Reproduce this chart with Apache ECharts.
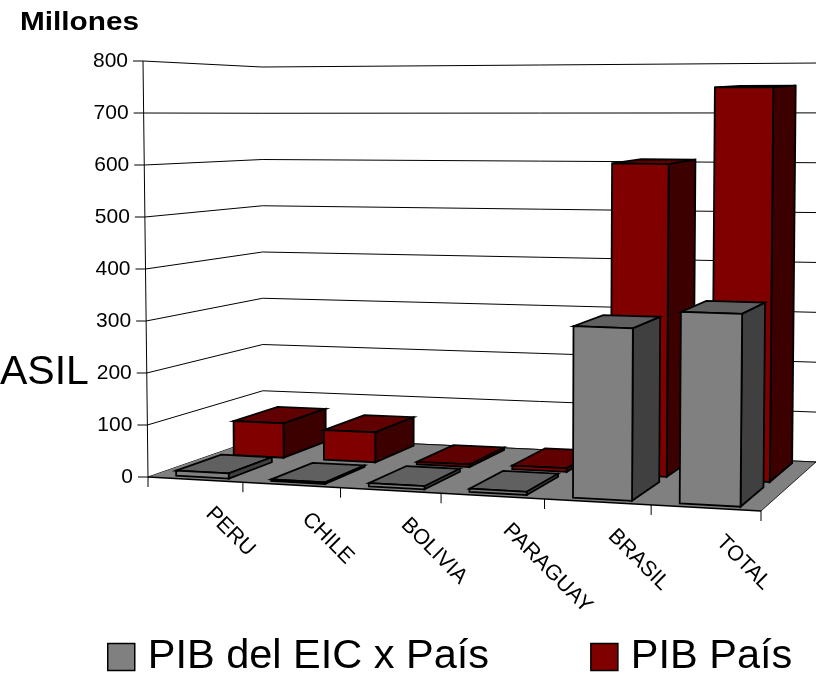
<!DOCTYPE html>
<html><head><meta charset="utf-8">
<style>html,body{margin:0;padding:0;background:#fff}#c{width:816px;height:676px}</style>
<script src="https://cdn.jsdelivr.net/npm/echarts@6/dist/echarts.min.js"></script>
</head><body><div id="c"></div>
<script>
const categories = ['PERU','CHILE','BOLIVIA','PARAGUAY','BRASIL','TOTAL'];
const pibEic = [10, 3, 6, 6, 316, 349];
const pibPais = [70, 60, 5, 7, 606, 755];
const valueTicks = [0,100,200,300,400,500,600,700,800];
const seriesNames = ['PIB del EIC x País','PIB País'];

// 3D box corners of the plot, as seen on screen
const FONT = 'Arial, "Liberation Sans", sans-serif';
const C = {
  fl0:[148,477], fr0:[761,511], bl0:[263,437], br0:[816,462],
  fl1:[143,61],  fr1:[765,65],  bl1:[262,67],  br1:[820,63]
};
const PERSP = -0.084;
const lerp = (a,b,k)=>[a[0]+(b[0]-a[0])*k, a[1]+(b[1]-a[1])*k];
function project(cs, p, t){
  const uN=(p[0]-cs.x)/cs.width, vN=(cs.y+cs.height-p[1])/cs.height;
  const s=uN*(1+PERSP)/(1+PERSP*uN);
  const base=lerp(lerp(C.fl0,C.fr0,s),lerp(C.bl0,C.br0,s),t);
  const top=lerp(lerp(C.fl1,C.fr1,s),lerp(C.bl1,C.br1,s),t);
  return lerp(base,top,vN);
}
const poly=(points,fill,lw)=>({type:'polygon',shape:{points},style:{fill,stroke:'#000',lineWidth:lw==null?1.8:lw,lineJoin:'miter'}});
const line=(a,b,lw)=>({type:'line',shape:{x1:a[0],y1:a[1],x2:b[0],y2:b[1]},style:{stroke:'#000',lineWidth:lw||1,fill:null}});

function barRenderer(t0,t1,front,side,top){
  return function(params,api){
    const cs=params.coordSys;
    const i=api.value(0), v=api.value(1);
    const c0=api.coord([i,0]), c1=api.coord([i,v]);
    const w=api.size([1,0])[0];
    const xa=c0[0]-w*0.272, xb=c0[0]+w*0.285;
    const P=(x,y,t)=>project(cs,[x,y],t);
    const A=P(xa,c1[1],t0),B=P(xb,c1[1],t0),Bb=P(xb,c1[1],t1),Ab=P(xa,c1[1],t1);
    const A0=P(xa,c0[1],t0),B0=P(xb,c0[1],t0),Bb0=P(xb,c0[1],t1);
    return {type:'group',children:[
      poly([A,B,Bb,Ab],top),
      poly([B,Bb,Bb0,B0],side),
      poly([A,B,B0,A0],front)
    ]};
  };
}
function wallRenderer(params,api){
  const cs=params.coordSys;
  const v=api.value(0);
  const x0=cs.x, x1=cs.x+cs.width;
  const y=api.coord([0,v])[1];
  const a=project(cs,[x0,y],0), b=project(cs,[x0,y],1), c=project(cs,[x1,y],1);
  const kids=[line(a,b),line(b,c),line([a[0]-10,a[1]],a)];
  return {type:'group',children:kids};
}
function floorRenderer(params,api){
  const cs=params.coordSys;
  const yb=cs.y+cs.height, yt=cs.y, x0=cs.x, x1=cs.x+cs.width;
  const P=(x,y,t)=>project(cs,[x,y],t);
  return {type:'group',children:[
    line(P(x0,yb,0),P(x0,yt,0)),
    {type:'polygon',shape:{points:[P(x0,yb,0),P(x1,yb,0),P(x1,yb,1),P(x0,yb,1)]},style:{fill:'#808080',stroke:null}},
    line(P(x0,yb,1),P(x1,yb,1),.8),
    line(P(x1,yb,1),P(x1,yb,0),.8),
    line(P(x0,yb,0),P(x1,yb,0),1.4)
  ]};
}
function labelRenderer(params,api){
  const cs=params.coordSys;
  const i=api.value(0);
  const w=api.size([1,0])[0];
  const c=api.coord([i,0]);
  const m=project(cs,c,0);
  const e=project(cs,[c[0]+w/2,c[1]],0);
  return {type:'group',children:[
    line(e,[e[0],e[1]+10]),
    ...(i===0?[ (()=>{const s=project(cs,[c[0]-w/2,c[1]],0);return line(s,[s[0],s[1]+10]);})() ]:[]),
    {type:'text',x:m[0]+14,y:m[1]+31,rotation:-Math.PI/4,
     style:{text:categories[i],fill:'#000',font:'21.5px '+FONT,align:'left',verticalAlign:'middle'}}
  ]};
}

const rich={};
valueTicks.forEach(v=>{rich['p'+v]={fontSize:21,fontFamily:FONT,color:'#000',padding:[0,5*v/800,0,0]};});

const chart=echarts.init(document.getElementById('c'),null,{renderer:'canvas',width:816,height:676});
chart.setOption({
  animation:false,
  backgroundColor:'#fff',
  grid:{left:148,top:61,width:613,height:416,containLabel:false},
  xAxis:{type:'category',data:categories,show:false},
  yAxis:{type:'value',min:0,max:800,interval:100,
    axisLine:{show:false},axisTick:{show:false},splitLine:{show:false},
    axisLabel:{margin:15,fontSize:21,fontFamily:FONT,color:'#000',
      formatter:v=>'{p'+v+'|'+v+'}',rich}},
  legend:{show:true,left:107,top:636,padding:0,itemWidth:27,itemHeight:27,itemGap:101,
    icon:'rect',
    textStyle:{fontSize:41.5,fontFamily:FONT,color:'#000',padding:[4,0,0,8]},
    data:[
      {name:seriesNames[0],itemStyle:{color:'#808080',borderColor:'#000',borderWidth:1.5}},
      {name:seriesNames[1],itemStyle:{color:'#800000',borderColor:'#000',borderWidth:1.5}}
    ],selectedMode:false},
  graphic:[
    {type:'text',x:20,y:11,scaleX:1.19,style:{text:'Millones',font:'bold 25px '+FONT,fill:'#000'}},
    {type:'text',x:0,y:352,style:{text:'ASIL',font:'41px '+FONT,fill:'#000'}}
  ],
  series:[
    {type:'custom',name:'paredes',silent:true,z:1,renderItem:wallRenderer,encode:{y:0},
     data:valueTicks.map(v=>[v])},
    {type:'custom',name:'suelo',silent:true,z:2,renderItem:floorRenderer,data:[[0]]},
    {type:'custom',name:'categorias',silent:true,z:3,renderItem:labelRenderer,encode:{x:0},
     data:categories.map((c,i)=>[i])},
    {type:'custom',name:seriesNames[1],z:4,encode:{x:0,y:1},itemStyle:{color:'#800000'},
     renderItem:barRenderer(0.57,0.96,'#800000','#3c0000','#600000'),
     data:pibPais.map((v,i)=>[i,v])},
    {type:'custom',name:seriesNames[0],z:5,encode:{x:0,y:1},itemStyle:{color:'#808080'},
     renderItem:barRenderer(0.06,0.46,'#808080','#404040','#606060'),
     data:pibEic.map((v,i)=>[i,v])}
  ]
});
</script></body></html>
